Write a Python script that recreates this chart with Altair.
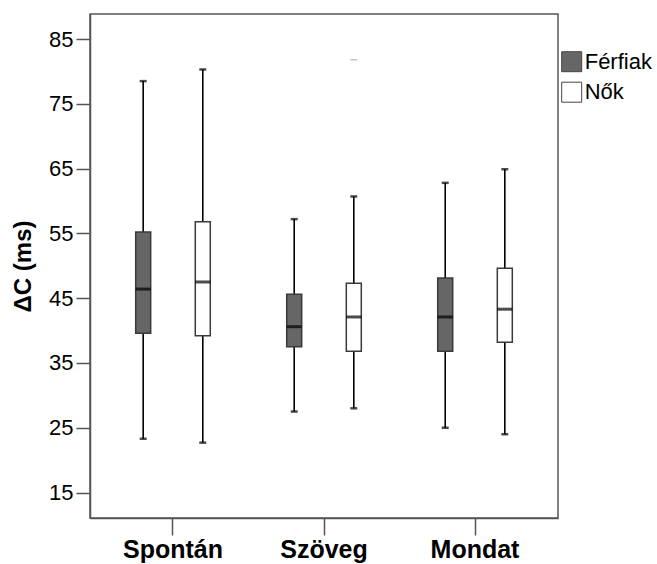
import altair as alt
import pandas as pd

categories = ["Spontán", "Spontán", "Szöveg", "Szöveg", "Mondat", "Mondat"]
genders = ["Férfiak", "Nők", "Férfiak", "Nők", "Férfiak", "Nők"]
mins = [23.3, 22.7, 27.5, 28.0, 25.0, 24.0]
q1s = [39.6, 39.2, 37.5, 36.8, 36.8, 38.2]
medians = [46.4, 47.5, 40.6, 42.1, 42.1, 43.3]
q3s = [55.2, 56.8, 45.6, 47.3, 48.1, 49.6]
maxs = [78.5, 80.3, 57.2, 60.7, 62.8, 64.9]

outlier_cat = ["Szöveg"]
outlier_gender = ["Nők"]
outlier_val = [81.8]

cat_order = ["Spontán", "Szöveg", "Mondat"]
gender_order = ["Férfiak", "Nők"]
y_ticks = [15, 25, 35, 45, 55, 65, 75, 85]

df = pd.DataFrame({
    "cat": categories, "gender": genders, "min": mins, "q1": q1s,
    "median": medians, "q3": q3s, "max": maxs,
})
df_out = pd.DataFrame({"cat": outlier_cat, "gender": outlier_gender, "v": outlier_val})

FONT = "Arial, Liberation Sans, sans-serif"

x_enc = alt.X("cat:N", sort=cat_order, title=None,
              scale=alt.Scale(domain=cat_order, paddingInner=0.5, paddingOuter=0.2995),
              axis=alt.Axis(labelAngle=0))
xo_enc = alt.XOffset("gender:N", sort=gender_order,
                     scale=alt.Scale(domain=gender_order, paddingInner=0.733, paddingOuter=0))
yscale = alt.Scale(domain=[11.07, 88.86], nice=False, zero=False)

base = alt.Chart(df)

lower = base.mark_rule(color="black", strokeWidth=1.6).encode(
    x=x_enc, xOffset=xo_enc,
    y=alt.Y("min:Q", scale=yscale,
            axis=alt.Axis(values=y_ticks, title="ΔC (ms)",
                          titleX=-67, titleY=252, titleAngle=-90, titleBaseline="middle",
                          titleAlign="center", grid=False)),
    y2="q1:Q",
)
upper = base.mark_rule(color="black", strokeWidth=1.6).encode(
    x=x_enc, xOffset=xo_enc, y=alt.Y("q3:Q", scale=yscale), y2="max:Q")

cap_lo = base.mark_tick(color="black", size=7, thickness=2.5).encode(
    x=x_enc, xOffset=xo_enc, y=alt.Y("min:Q", scale=yscale))
cap_hi = base.mark_tick(color="black", size=7, thickness=2.5).encode(
    x=x_enc, xOffset=xo_enc, y=alt.Y("max:Q", scale=yscale))

box = base.mark_bar(width=15, stroke="#3a3a3a", strokeWidth=1.5).encode(
    x=x_enc, xOffset=xo_enc,
    y=alt.Y("q1:Q", scale=yscale), y2="q3:Q",
    color=alt.Color("gender:N",
                    scale=alt.Scale(domain=gender_order, range=["#666666", "#ffffff"]),
                    legend=alt.Legend(title=None, orient="none", legendX=470.7, legendY=36.7,
                                      symbolType="square", symbolSize=400,
                                      symbolStrokeColor="#444444", symbolStrokeWidth=1,
                                      labelOffset=2, rowPadding=6.5, padding=0)),
)

med = base.mark_tick(color="black", size=15, thickness=3).encode(
    x=x_enc, xOffset=xo_enc, y=alt.Y("median:Q", scale=yscale))

outl = alt.Chart(df_out).mark_tick(color="#aaaaaa", size=7, thickness=1.5).encode(
    x=x_enc, xOffset=xo_enc, y=alt.Y("v:Q", scale=yscale))

chart = alt.layer(lower, upper, cap_lo, cap_hi, box, med, outl).properties(
    width=468, height=504,
    autosize=alt.AutoSizeParams(type="none"),
    padding={"left": 90, "top": 14, "right": 99, "bottom": 46},
    background="white",
).configure_view(
    stroke="#555555", strokeWidth=1.5
).configure_axisY(
    labelFontSize=22, labelFont=FONT, labelColor="black", labelPadding=3,
    tickSize=14, tickColor="#555555", tickWidth=1.5,
    domainColor="#555555", domainWidth=1.5, grid=False,
    titleFontSize=24, titleFont=FONT, titleFontWeight="bold", titleColor="black",
).configure_axisX(
    labelFontSize=25, labelFontWeight="bold", labelFont=FONT, labelColor="black",
    labelPadding=2, tickSize=17, tickColor="#555555", tickWidth=1.5,
    domainColor="#555555", domainWidth=1.5, grid=False,
).configure_legend(
    labelFontSize=22, labelFont=FONT, labelColor="black",
)

chart.save("out.html", embed_options={"renderer": "svg", "actions": False})
